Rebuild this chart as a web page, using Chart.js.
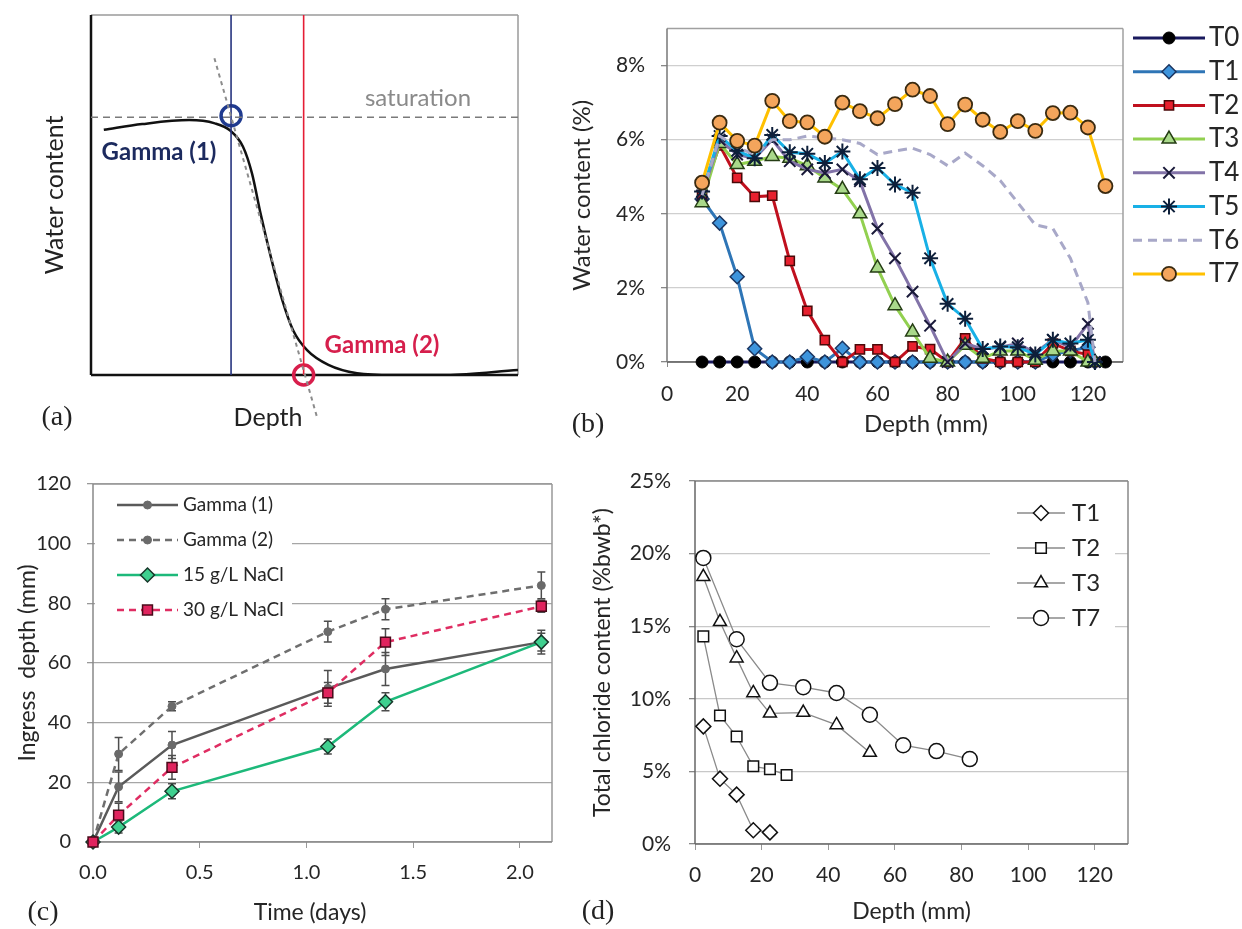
<!DOCTYPE html>
<html>
<head>
<meta charset="utf-8">
<script src="https://cdn.jsdelivr.net/npm/chart.js@4.4.1/dist/chart.umd.min.js"></script>
<style>
body { margin: 0; background: #fff; }
#page { position: relative; width: 1242px; height: 929px; overflow: hidden; background: #fff; }
canvas { position: absolute; }
</style>
</head>
<body>
<div id="page">
<canvas id="chartA" width="560" height="440" style="left:0px;top:0px"></canvas>
<canvas id="chartB" width="682" height="440" style="left:560px;top:0px"></canvas>
<canvas id="chartC" width="580" height="489" style="left:0px;top:440px"></canvas>
<canvas id="chartD" width="662" height="489" style="left:580px;top:440px"></canvas>
</div>
<script>
// ---- (a) schematic profile (arbitrary units 0-100)
var schemDepth = [3, 12, 23, 29, 32.6, 35.6, 37.7, 39.7, 42.3, 44.8, 47.3, 50.6, 55.6, 62.3, 70.7, 83.2, 100];
var schemWater = [68.1, 69.7, 70.8, 69.9, 67.9, 63.4, 56.0, 44.9, 31.9, 20.8, 12.5, 6.9, 2.8, 0.5, 0, 0, 1.4];
var satDepth = [0, 100];
var satWater = [71.6, 71.6];
var tangentDepth = [28.9, 53];
var tangentWater = [88, -12];
var gamma1Pos = [32.8, 72];
var gamma2Pos = [49.8, 0];

// ---- (b) water content profiles (%)
var depthLong = [10, 15, 20, 25, 30, 35, 40, 45, 50, 55, 60, 65, 70, 75, 80, 85, 90, 95, 100, 105, 110, 115, 120, 125];
var depthShort = [10, 15, 20, 25, 30, 35, 40, 45, 50, 55, 60, 65, 70, 75, 80, 85, 90, 95, 100, 105, 110, 115, 120, 122];
var wT0 = [0, 0, 0, 0, 0, 0, 0, 0, 0, 0, 0, 0, 0, 0, 0, 0, 0, 0, 0, 0, 0, 0, 0, 0];
var wT1 = [4.4, 3.75, 2.3, 0.36, 0, 0, 0.14, 0, 0.37, 0, 0, 0, 0, 0, 0, 0, 0, 0, 0, 0, 0.2, 0.3, 0.4, 0];
var wT2 = [4.5, 5.85, 4.97, 4.46, 4.49, 2.73, 1.38, 0.59, 0, 0.34, 0.34, 0, 0.42, 0.35, 0, 0.64, 0.1, 0, 0, 0, 0.5, 0.3, 0.2, 0];
var wT3 = [4.3, 5.9, 5.33, 5.42, 5.55, 5.5, 5.3, 4.97, 4.66, 4.0, 2.54, 1.52, 0.81, 0.1, 0, 0.45, 0.1, 0.3, 0.3, 0.05, 0.3, 0.3, 0, 0];
var wT4 = [4.5, 6.0, 5.6, 5.5, 6.0, 5.42, 5.2, 5.1, 5.2, 4.88, 3.6, 2.8, 1.9, 0.98, 0, 0.5, 0.35, 0.4, 0.5, 0.25, 0.6, 0.4, 1.03, 0];
var wT5 = [4.6, 6.1, 5.7, 5.5, 6.13, 5.66, 5.62, 5.37, 5.68, 4.93, 5.24, 4.79, 4.57, 2.8, 1.57, 1.17, 0.35, 0.42, 0.4, 0.2, 0.6, 0.5, 0.6, 0];
var wT6 = [4.5, 6.1, 5.8, 5.6, 6.0, 6.0, 6.1, 6.05, 6.0, 5.9, 5.6, 5.7, 5.77, 5.6, 5.3, 5.64, 5.3, 4.9, 4.3, 3.7, 3.6, 2.8, 1.6, 0];
var wT7 = [4.84, 6.46, 5.97, 5.84, 7.05, 6.5, 6.47, 6.08, 7.0, 6.77, 6.58, 6.96, 7.35, 7.18, 6.42, 6.95, 6.54, 6.21, 6.5, 6.24, 6.72, 6.73, 6.33, 4.75];
var yTicksB = [0, 2, 4, 6, 8];

// ---- (c) ingress depth vs time
var timeDays = [0, 0.12, 0.37, 1.10, 1.37, 2.10];
var ingGamma1 = [0, 18.5, 32.5, 51.5, 58, 67];
var ingGamma2 = [0, 29.5, 45.5, 70.5, 78, 86];
var ingNaCl15 = [0, 5, 17, 32, 47, 67];
var ingNaCl30 = [0, 9, 25, 50, 67, 79];
var errGamma1 = [0, 5, 4.5, 6, 5.5, 3];
var errGamma2 = [0, 5.5, 1.5, 3.5, 3.5, 4.5];
var errNaCl15 = [0, 2, 2.5, 2.5, 3, 4];
var errNaCl30 = [0, 4, 4, 3.5, 4.5, 2];

// ---- (d) total chloride content (%bwb*)
var clDepthT1 = [2.5, 7.5, 12.5, 17.5, 22.5];
var clT1 = [8.1, 4.5, 3.4, 0.95, 0.8];
var clDepthT2 = [2.5, 7.5, 12.5, 17.5, 22.5, 27.5];
var clT2 = [14.3, 8.85, 7.4, 5.35, 5.15, 4.75];
var clDepthT3 = [2.5, 7.5, 12.5, 17.5, 22.5, 32.5, 42.5, 52.5];
var clT3 = [18.4, 15.3, 12.8, 10.4, 9.0, 9.05, 8.2, 6.3];
var clDepthT7 = [2.5, 12.5, 22.5, 32.5, 42.5, 52.5, 62.5, 72.5, 82.5];
var clT7 = [19.7, 14.1, 11.1, 10.8, 10.4, 8.9, 6.8, 6.4, 5.85];

Chart.defaults.font.family = 'Lato';
Chart.defaults.color = '#262626';
Chart.defaults.animation = false;

var pts = function(xs, ys) {
	return xs.map(function(x, i) { return {x: x, y: ys[i]}; });
};

// box round the plot area, one style per side
var framePlugin = function(sides) {
	return {
		id: 'frame',
		beforeDatasetsDraw: function(chart) {
			var a = chart.chartArea, ctx = chart.ctx;
			var seg = {
				top: [a.left, a.top, a.right, a.top],
				right: [a.right, a.top, a.right, a.bottom],
				bottom: [a.left, a.bottom, a.right, a.bottom],
				left: [a.left, a.top, a.left, a.bottom]
			};
			Object.keys(sides).forEach(function(k) {
				var s = sides[k], p = seg[k];
				ctx.save();
				ctx.strokeStyle = s.c;
				ctx.lineWidth = s.w;
				ctx.beginPath();
				ctx.moveTo(p[0], p[1]);
				ctx.lineTo(p[2], p[3]);
				ctx.stroke();
				ctx.restore();
			});
		}
	};
};

// free text labels (canvas pixels)
var notesPlugin = function(items) {
	return {
		id: 'notes',
		afterDraw: function(chart) {
			var ctx = chart.ctx;
			items.forEach(function(n) {
				ctx.save();
				ctx.font = n.font;
				ctx.fillStyle = n.color || '#222';
				ctx.textAlign = 'center';
				ctx.textBaseline = 'middle';
				ctx.fillText(n.text, n.x, n.y);
				ctx.restore();
			});
		}
	};
};

// excel-like legend: line with marker in the middle
var legendPlugin = function(o) {
	return {
		id: 'lineLegend',
		afterDraw: function(chart) {
			var ctx = chart.ctx;
			ctx.save();
			if (o.bg) {
				ctx.fillStyle = '#fff';
				ctx.fillRect(o.bg[0], o.bg[1], o.bg[2], o.bg[3]);
			}
			chart.data.datasets.forEach(function(ds, i) {
				var y = o.y + i * o.row;
				ctx.setLineDash(ds.borderDash || []);
				ctx.strokeStyle = ds.borderColor;
				ctx.lineWidth = ds.borderWidth;
				ctx.beginPath();
				ctx.moveTo(o.x, y);
				ctx.lineTo(o.x + o.len, y);
				ctx.stroke();
				ctx.setLineDash([]);
				if (ds.pointRadius > 0) {
					ctx.fillStyle = ds.pointBackgroundColor;
					ctx.strokeStyle = ds.pointBorderColor;
					ctx.lineWidth = ds.pointBorderWidth;
					Chart.helpers.drawPoint(ctx, {pointStyle: ds.pointStyle, radius: ds.pointRadius, rotation: 0, borderWidth: ds.pointBorderWidth}, o.x + o.len / 2, y);
				}
				ctx.fillStyle = '#262626';
				ctx.font = o.font;
				ctx.textAlign = 'left';
				ctx.textBaseline = 'middle';
				ctx.fillText(ds.label, o.x + o.len + o.gap, y);
			});
			ctx.restore();
		}
	};
};

var errorBarPlugin = {
	id: 'errorBars',
	beforeDatasetsDraw: function(chart) {
		var ctx = chart.ctx, xs = chart.scales.x, ys = chart.scales.y;
		chart.data.datasets.forEach(function(ds) {
			if (!ds.errors) return;
			ctx.save();
			ctx.strokeStyle = '#4d4d4d';
			ctx.lineWidth = 1.5;
			ds.data.forEach(function(p, j) {
				var e = ds.errors[j];
				if (!e) return;
				var px = xs.getPixelForValue(p.x);
				var y1 = ys.getPixelForValue(p.y + e), y2 = ys.getPixelForValue(p.y - e);
				ctx.beginPath();
				ctx.moveTo(px, y1); ctx.lineTo(px, y2);
				ctx.moveTo(px - 4, y1); ctx.lineTo(px + 4, y1);
				ctx.moveTo(px - 4, y2); ctx.lineTo(px + 4, y2);
				ctx.stroke();
			});
			ctx.restore();
		});
	}
};

// ================= (a)
new Chart(document.getElementById('chartA'), {
	type: 'line',
	data: {
		datasets: [
			{ label: 'tangent', data: pts(tangentDepth, tangentWater), borderColor: '#8c8c8c', borderWidth: 2, borderDash: [4, 4], pointRadius: 0, clip: false },
			{ label: 'saturation', data: pts(satDepth, satWater), borderColor: '#7a7a7a', borderWidth: 1.5, borderDash: [7, 5], pointRadius: 0 },
			{ label: 'g1line', data: pts([gamma1Pos[0], gamma1Pos[0]], [0, 100]), borderColor: '#26347f', borderWidth: 1.6, pointRadius: 0 },
			{ label: 'g2line', data: pts([gamma2Pos[0], gamma2Pos[0]], [0, 100]), borderColor: '#e51d35', borderWidth: 1.6, pointRadius: 0 },
			{ label: 'profile', data: pts(schemDepth, schemWater), borderColor: '#111', borderWidth: 2.5, pointRadius: 0, cubicInterpolationMode: 'monotone' },
			{ label: 'g1', data: pts([gamma1Pos[0]], [gamma1Pos[1]]), showLine: false, pointRadius: 10, pointBorderWidth: 3.5, pointBorderColor: '#1f3a8f', pointBackgroundColor: 'rgba(0,0,0,0)', clip: false },
			{ label: 'g2', data: pts([gamma2Pos[0]], [gamma2Pos[1]]), showLine: false, pointRadius: 10, pointBorderWidth: 3.5, pointBorderColor: '#d81e4c', pointBackgroundColor: 'rgba(0,0,0,0)', clip: false }
		]
	},
	options: {
		responsive: false,
		layout: { autoPadding: false, padding: { left: 0, top: 15, right: 42, bottom: 0 } },
		plugins: { legend: { display: false }, tooltip: { enabled: false } },
		scales: {
			x: { type: 'linear', min: 0, max: 100, ticks: { display: false }, grid: { display: false }, border: { display: false },
				afterFit: function(s) { s.height = 65; } },
			y: { type: 'linear', min: 0, max: 100, ticks: { display: false }, grid: { display: false }, border: { display: false },
				title: { display: true, text: 'Water content', font: { size: 25, lineHeight: 1 }, color: '#222', padding: { top: 42 } },
				afterFit: function(s) { s.width = 91; } }
		}
	},
	plugins: [
		framePlugin({ top: { c: '#9a9a9a', w: 1.5 }, right: { c: '#9a9a9a', w: 1.5 }, bottom: { c: '#111', w: 2.5 }, left: { c: '#111', w: 2.5 } }),
		notesPlugin([
			{ text: 'saturation', x: 418, y: 98, font: '24px Lato', color: '#8a8a8a' },
			{ text: 'Gamma (1)', x: 159, y: 152, font: 'bold 24px Lato', color: '#1c2a5e' },
			{ text: 'Gamma (2)', x: 382, y: 345, font: 'bold 24px Lato', color: '#d61f4c' },
			{ text: 'Depth', x: 268, y: 418, font: '25px Lato', color: '#222' },
			{ text: '(a)', x: 57, y: 418, font: '28px "Liberation Serif"', color: '#222' }
		])
	]
});

// ================= (b)
var styleB = [
	{ line: '#1a1a5e', bg: '#000', bd: '#000', shape: 'circle', r: 6, bw: 1 },
	{ line: '#2e75b6', bg: '#3d94dc', bd: '#1b3560', shape: 'rectRot', r: 7, bw: 1.5 },
	{ line: '#c0101e', bg: '#e8202e', bd: '#4a0808', shape: 'rect', r: 6.5, bw: 1.5 },
	{ line: '#92d050', bg: '#a9d98a', bd: '#253d14', shape: 'triangle', r: 8, bw: 1.5 },
	{ line: '#8273a8', bg: '#1a1a3a', bd: '#1a1a3a', shape: 'crossRot', r: 8, bw: 2 },
	{ line: '#18b0e6', bg: '#0d1f3a', bd: '#0d1f3a', shape: 'star', r: 8, bw: 2 },
	{ line: '#a8a8c8', bg: '#a8a8c8', bd: '#a8a8c8', shape: 'circle', r: 0, bw: 0, dash: [9, 6] },
	{ line: '#ffc000', bg: '#f4a55c', bd: '#3a2a10', shape: 'circle', r: 7, bw: 1.8 }
];
var seriesB = [
	['T0', depthLong, wT0], ['T1', depthShort, wT1], ['T2', depthShort, wT2], ['T3', depthShort, wT3],
	['T4', depthShort, wT4], ['T5', depthShort, wT5], ['T6', depthShort, wT6], ['T7', depthLong, wT7]
];
new Chart(document.getElementById('chartB'), {
	type: 'line',
	data: {
		datasets: seriesB.map(function(s, i) {
			var st = styleB[i];
			return {
				label: s[0], data: pts(s[1], s[2]), order: 7 - i,
				borderColor: st.line, borderWidth: 3, borderDash: st.dash || [],
				pointStyle: st.shape, pointRadius: st.r, pointBackgroundColor: st.bg,
				pointBorderColor: st.bd, pointBorderWidth: st.bw, clip: false
			};
		})
	},
	options: {
		responsive: false,
		layout: { autoPadding: false, padding: { left: 0, top: 23, right: 119, bottom: 0 } },
		plugins: { legend: { display: false }, tooltip: { enabled: false } },
		scales: {
			x: { type: 'linear', min: 0, max: 130,
				ticks: { stepSize: 20, includeBounds: false, font: { size: 21 }, padding: 15 },
				grid: { drawOnChartArea: false, tickLength: 5, color: '#888' }, border: { display: false },
				afterFit: function(s) { s.height = 78; } },
			y: { type: 'linear', min: 0, max: 9,
				afterBuildTicks: function(s) { s.ticks = yTicksB.map(function(v) { return { value: v }; }); },
				ticks: { font: { size: 21 }, padding: 16, callback: function(v) { return v + '%'; } },
				grid: { color: '#cfcfcf', lineWidth: 1.3, tickLength: 6, tickColor: '#888' }, border: { display: false },
				title: { display: true, text: 'Water content (%)', font: { size: 24, lineHeight: 1 }, padding: { top: 10 } },
				afterFit: function(s) { s.width = 107; } }
		}
	},
	plugins: [
		framePlugin({ top: { c: '#a0a0a0', w: 1.5 }, right: { c: '#a0a0a0', w: 1.5 }, bottom: { c: '#555', w: 1.5 }, left: { c: '#777', w: 1.5 } }),
		legendPlugin({ x: 573, y: 38, row: 33.7, len: 72, gap: 4, font: '26px Lato' }),
		notesPlugin([
			{ text: 'Depth (mm)', x: 366, y: 424, font: '24px Lato', color: '#262626' },
			{ text: '(b)', x: 28, y: 425, font: '28px "Liberation Serif"', color: '#222' }
		])
	]
});

// ================= (c)
var seriesC = [
	{ label: 'Gamma (1)', data: pts(timeDays, ingGamma1), errors: errGamma1, borderColor: '#5a5a5a', borderWidth: 2.5,
		pointStyle: 'circle', pointRadius: 4, pointBackgroundColor: '#6a6a6a', pointBorderColor: '#6a6a6a', pointBorderWidth: 1 },
	{ label: 'Gamma (2)', data: pts(timeDays, ingGamma2), errors: errGamma2, borderColor: '#6e6e6e', borderWidth: 2.5, borderDash: [7, 5],
		pointStyle: 'circle', pointRadius: 4, pointBackgroundColor: '#6a6a6a', pointBorderColor: '#6a6a6a', pointBorderWidth: 1 },
	{ label: '15 g/L NaCl', data: pts(timeDays, ingNaCl15), errors: errNaCl15, borderColor: '#1db97a', borderWidth: 2.5,
		pointStyle: 'rectRot', pointRadius: 7, pointBackgroundColor: '#3fd08f', pointBorderColor: '#17372a', pointBorderWidth: 1.5 },
	{ label: '30 g/L NaCl', data: pts(timeDays, ingNaCl30), errors: errNaCl30, borderColor: '#df2d62', borderWidth: 2.5, borderDash: [7, 5],
		pointStyle: 'rect', pointRadius: 7, pointBackgroundColor: '#e0245e', pointBorderColor: '#4a0a1a', pointBorderWidth: 1.5 }
];
seriesC.forEach(function(ds, i) { ds.order = 3 - i; ds.clip = false; });
new Chart(document.getElementById('chartC'), {
	type: 'line',
	data: { datasets: seriesC },
	options: {
		responsive: false,
		layout: { autoPadding: false, padding: { left: 0, top: 44, right: 28, bottom: 0 } },
		plugins: { legend: { display: false }, tooltip: { enabled: false } },
		scales: {
			x: { type: 'linear', min: 0, max: 2.15,
				ticks: { stepSize: 0.5, includeBounds: false, font: { size: 20 }, padding: 13, callback: function(v) { return v.toFixed(1); } },
				grid: { drawOnChartArea: false, tickLength: 6, color: '#999' }, border: { display: false },
				afterFit: function(s) { s.height = 87; } },
			y: { type: 'linear', min: 0, max: 120,
				ticks: { stepSize: 20, font: { size: 20 }, padding: 16 },
				grid: { color: '#a6a6a6', lineWidth: 1.3, tickLength: 6, tickColor: '#999' }, border: { display: false },
				title: { display: true, text: 'Ingress  depth (mm)', font: { size: 23, lineHeight: 1 }, padding: { top: 16.5 } },
				afterFit: function(s) { s.width = 93; } }
		}
	},
	plugins: [
		framePlugin({ top: { c: '#999', w: 1.5 }, right: { c: '#999', w: 1.5 }, bottom: { c: '#888', w: 1.5 }, left: { c: '#888', w: 1.5 } }),
		errorBarPlugin,
		legendPlugin({ x: 117, y: 65, row: 35, len: 61, gap: 5, font: '19px Lato', bg: [95, 47, 197, 141] }),
		notesPlugin([
			{ text: 'Time (days)', x: 310, y: 473, font: '23px Lato', color: '#262626' },
			{ text: '(c)', x: 43, y: 473, font: '28px "Liberation Serif"', color: '#222' }
		])
	]
});

// ================= (d)
var markD = function(label, xs, ys, shape) {
	return { label: label, data: pts(xs, ys), borderColor: '#8a8a8a', borderWidth: 1.3, pointStyle: shape, pointRadius: 7.5,
		pointBackgroundColor: '#fff', pointBorderColor: '#111', pointBorderWidth: 1.5 };
};
new Chart(document.getElementById('chartD'), {
	type: 'line',
	data: {
		datasets: [
			markD('T1', clDepthT1, clT1, 'rectRot'),
			markD('T2', clDepthT2, clT2, 'rect'),
			markD('T3', clDepthT3, clT3, 'triangle'),
			markD('T7', clDepthT7, clT7, 'circle')
		]
	},
	options: {
		responsive: false,
		layout: { autoPadding: false, padding: { left: 0, top: 41, right: 114, bottom: 0 } },
		plugins: { legend: { display: false }, tooltip: { enabled: false } },
		scales: {
			x: { type: 'linear', min: 0, max: 130,
				ticks: { stepSize: 20, includeBounds: false, font: { size: 21 }, padding: 13 },
				grid: { drawOnChartArea: false, tickLength: 6, color: '#999' }, border: { display: false },
				title: { display: true, text: 'Depth (mm)', font: { size: 23, lineHeight: 1 }, padding: { top: 0, bottom: 5.5 } },
				afterFit: function(s) { s.height = 85; } },
			y: { type: 'linear', min: 0, max: 25,
				ticks: { stepSize: 5, font: { size: 21 }, padding: 18, callback: function(v) { return v + '%'; } },
				grid: { color: '#c8c8c8', lineWidth: 1.3, tickLength: 6, tickColor: '#888' }, border: { display: false },
				title: { display: true, text: 'Total chloride content (%bwb*)', font: { size: 23, lineHeight: 1 }, padding: { top: 11.5 } },
				afterFit: function(s) { s.width = 115; } }
		}
	},
	plugins: [
		framePlugin({ top: { c: '#888', w: 1.5 }, right: { c: '#888', w: 1.5 }, bottom: { c: '#666', w: 1.5 }, left: { c: '#666', w: 1.5 } }),
		legendPlugin({ x: 437, y: 73, row: 35, len: 48, gap: 7, font: '24px Lato', bg: [410, 50, 125, 148] }),
		notesPlugin([{ text: '(d)', x: 18, y: 472, font: '28px "Liberation Serif"', color: '#222' }])
	]
});
</script>
</body>
</html>
